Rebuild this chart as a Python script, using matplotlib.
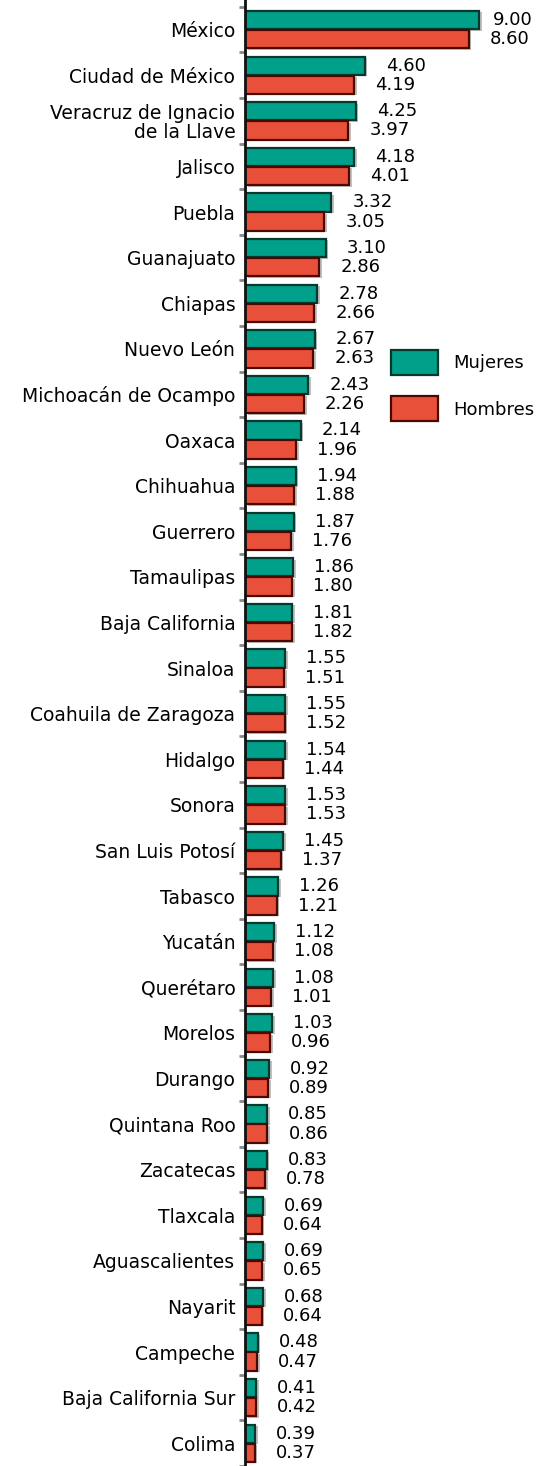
import numpy as np
import matplotlib.pyplot as plt
import matplotlib.patheffects as pe
from matplotlib.patches import Patch

plt.rcParams['font.family'] = ['DejaVu Sans']

estados = ['México', 'Ciudad de México', 'Veracruz de Ignacio\nde la Llave', 'Jalisco',
           'Puebla', 'Guanajuato', 'Chiapas', 'Nuevo León', 'Michoacán de Ocampo',
           'Oaxaca', 'Chihuahua', 'Guerrero', 'Tamaulipas', 'Baja California',
           'Sinaloa', 'Coahuila de Zaragoza', 'Hidalgo', 'Sonora', 'San Luis Potosí',
           'Tabasco', 'Yucatán', 'Querétaro', 'Morelos', 'Durango', 'Quintana Roo',
           'Zacatecas', 'Tlaxcala', 'Aguascalientes', 'Nayarit', 'Campeche',
           'Baja California Sur', 'Colima']
mujeres = [9.00, 4.60, 4.25, 4.18, 3.32, 3.10, 2.78, 2.67, 2.43, 2.14, 1.94, 1.87,
           1.86, 1.81, 1.55, 1.55, 1.54, 1.53, 1.45, 1.26, 1.12, 1.08, 1.03, 0.92,
           0.85, 0.83, 0.69, 0.69, 0.68, 0.48, 0.41, 0.39]
hombres = [8.60, 4.19, 3.97, 4.01, 3.05, 2.86, 2.66, 2.63, 2.26, 1.96, 1.88, 1.76,
           1.80, 1.82, 1.51, 1.52, 1.44, 1.53, 1.37, 1.21, 1.08, 1.01, 0.96, 0.89,
           0.86, 0.78, 0.64, 0.65, 0.64, 0.47, 0.42, 0.37]

c_muj = '#00a08a'
c_hom = '#e8503a'
shadow = [pe.SimplePatchShadow(offset=(2, -1), shadow_rgbFace='#999999', alpha=0.6), pe.Normal()]

fig = plt.figure(figsize=(5.41, 14.66), dpi=100)
ax = fig.add_axes([0.453, 0.0, 0.547, 1.0])

y = np.arange(len(estados))
h = 0.4
b1 = ax.barh(y - 0.21, mujeres, height=h, color=c_muj, edgecolor='#06392e', linewidth=1.6)
b2 = ax.barh(y + 0.21, hombres, height=h, color=c_hom, edgecolor='#4a0800', linewidth=1.6)
for b in list(b1) + list(b2):
    b.set_path_effects(shadow)

for i in range(len(estados)):
    dx = 14 if i == 0 else 21
    ax.annotate(f'{mujeres[i]:.2f}', (mujeres[i], y[i] - 0.21), xytext=(dx, 0),
                textcoords='offset pixels', va='center', ha='left', fontsize=13)
    ax.annotate(f'{hombres[i]:.2f}', (hombres[i], y[i] + 0.21), xytext=(21, 0),
                textcoords='offset pixels', va='center', ha='left', fontsize=13)

ax.set_xlim(0, 11.38)
ax.set_ylim(31.42, -0.65)
ax.set_yticks(y)
ax.set_yticklabels(estados, fontsize=13.5, ha='right', linespacing=1.0)
ax.tick_params(axis='y', length=0, pad=7)
ax.set_yticks(np.arange(len(estados) + 1) - 0.5, minor=True)
ax.tick_params(axis='y', which='minor', length=4, width=2, color='#888888')
ax.set_xticks([])
for s in ['top', 'right', 'bottom']:
    ax.spines[s].set_visible(False)
ax.spines['left'].set_linewidth(2)
ax.spines['left'].set_color('#111111')

handles = [Patch(facecolor=c_muj, edgecolor='#06392e', linewidth=1.6),
           Patch(facecolor=c_hom, edgecolor='#4a0800', linewidth=1.6)]
fig.legend(handles, ['Mujeres', 'Hombres'], loc='center left', bbox_to_anchor=(0.692, 0.737),
           frameon=False, fontsize=13, handlelength=2.6, handleheight=1.78,
           labelspacing=1.17, handletextpad=0.85)

fig.savefig('out.png', dpi=100)
